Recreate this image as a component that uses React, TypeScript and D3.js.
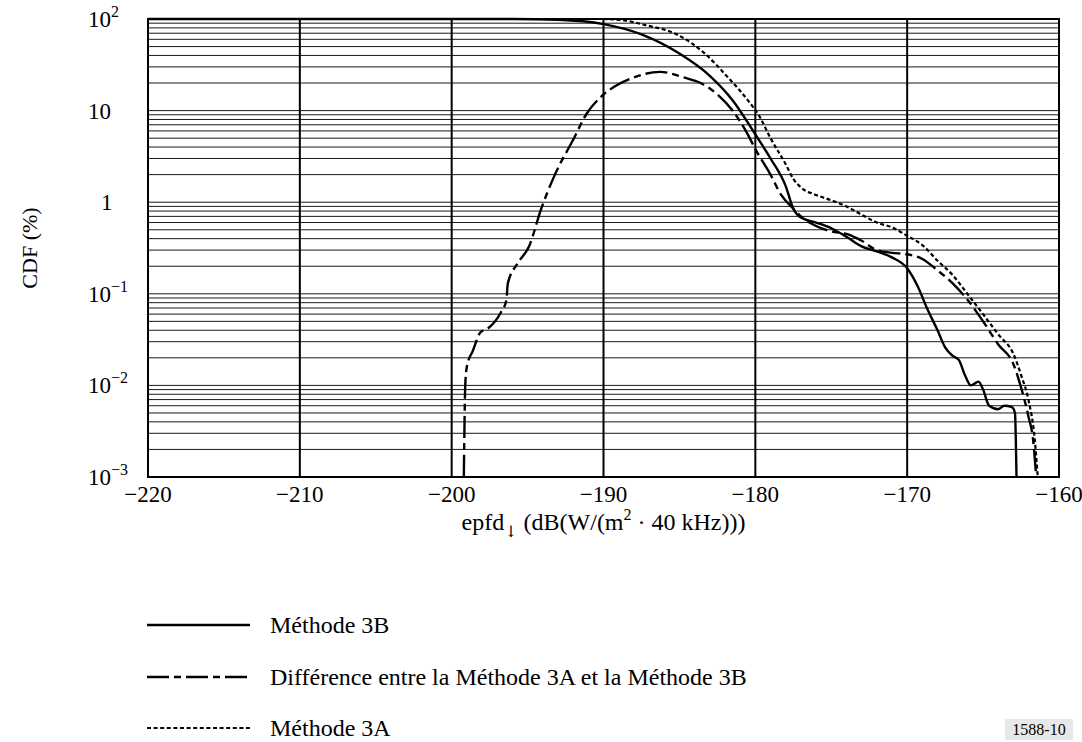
import { useEffect, useRef } from 'react';
import * as d3 from 'd3';

// x ticks (dB) and y decades (%)
const xTicks = [-220, -210, -200, -190, -180, -170, -160];
const yDecades = [100, 10, 1, 0.1, 0.01, 0.001];
const yLabelBase = ['10', '10', '1', '10', '10', '10'];
const yLabelSup = ['2', '', '', '\u22121', '\u22122', '\u22123'];

// Méthode 3B (solid)
const methode3B: [number, number][] = [
  [-220, 100], [-196, 100], [-193, 98], [-190, 88], [-187.5, 68], [-185, 42],
  [-183, 24], [-181.5, 13], [-180, 5.5], [-179, 3], [-178, 1.5], [-177.5, 0.85],
  [-177, 0.68], [-176, 0.6], [-175, 0.52], [-174, 0.42], [-173, 0.33], [-172, 0.29],
  [-171, 0.25], [-170, 0.19], [-169.3, 0.12], [-168.7, 0.07], [-168, 0.04],
  [-167.5, 0.026], [-167, 0.021], [-166.6, 0.019], [-166.2, 0.013], [-165.8, 0.01],
  [-165.3, 0.011], [-165, 0.009], [-164.6, 0.006], [-164, 0.0055], [-163.6, 0.006],
  [-163.1, 0.0058], [-162.9, 0.005], [-162.8, 0.001],
];

// Différence entre la Méthode 3A et la Méthode 3B (dash-dot)
const difference: [number, number][] = [
  [-199.2, 0.001], [-199.1, 0.0105], [-199.0, 0.016], [-198.6, 0.024], [-198.1, 0.038],
  [-197.6, 0.042], [-196.8, 0.061], [-196.4, 0.085], [-196.3, 0.13], [-195.7, 0.21],
  [-194.9, 0.33], [-194.1, 0.85], [-193.2, 2], [-192, 4.8], [-191.1, 9.3], [-190.2, 14],
  [-189.1, 19], [-188, 23], [-186.3, 26.5], [-184.7, 23], [-183.6, 20], [-182.5, 15],
  [-181.5, 10], [-180.5, 5.5], [-180, 3.8], [-179, 2], [-178.3, 1.2], [-177.5, 0.85],
  [-177, 0.7], [-176, 0.55], [-175, 0.48], [-174, 0.45], [-173, 0.38], [-172, 0.3],
  [-171, 0.28], [-170, 0.27], [-169, 0.24], [-168, 0.18], [-167, 0.13], [-166, 0.085],
  [-165, 0.05], [-164, 0.028], [-163, 0.017], [-162.5, 0.0095], [-162, 0.0045],
  [-161.7, 0.0025], [-161.5, 0.001],
];

// Méthode 3A (dotted)
const methode3A: [number, number][] = [
  [-220, 100], [-190, 100], [-188.5, 96], [-187.4, 87], [-185.1, 67], [-183.4, 43],
  [-181.8, 23], [-180.5, 13], [-179.7, 8.5], [-179, 5], [-178, 2.6], [-177.5, 1.8],
  [-177, 1.45], [-176, 1.2], [-175, 1.05], [-174, 0.9], [-173, 0.73], [-172, 0.6],
  [-171, 0.53], [-170, 0.43], [-169, 0.34], [-168, 0.23], [-167, 0.16], [-166, 0.098],
  [-165, 0.06], [-164, 0.036], [-163, 0.022], [-162.5, 0.013], [-162, 0.0068],
  [-161.6, 0.0026], [-161.4, 0.001],
];

const legendLabels = [
  'Méthode 3B',
  'Différence entre la Méthode 3A et la Méthode 3B',
  'Méthode 3A',
];

const App = () => {
  const ref = useRef<HTMLDivElement>(null);

  useEffect(() => {
    document.body.style.margin = '0';
    const width = 1082;
    const height = 742;
    const left = 148, right = 1059, top = 19, bottom = 477;
    const font = '"Liberation Serif", "Times New Roman", serif';

    const x = d3.scaleLinear().domain([-220, -160]).range([left, right]);
    const y = d3.scaleLog().domain([0.001, 100]).range([bottom, top]);

    d3.select(ref.current).select('svg').remove();

    const svg = d3.select(ref.current)
      .append('svg')
      .attr('width', width)
      .attr('height', height)
      .style('display', 'block')
      .style('background', '#fff')
      .style('font-family', font)
      .attr('fill', '#000');

    svg.append('defs').append('clipPath').attr('id', 'plot')
      .append('rect')
      .attr('x', left).attr('y', top - 2)
      .attr('width', right - left).attr('height', bottom - top + 2);

    // horizontal grid: 1..9 x each decade
    const minor: number[] = [];
    for (let n = -3; n <= 1; n++) {
      for (let k = 1; k <= 9; k++) {
        const v = k * Math.pow(10, n);
        if (v > 0.001 && v < 100) minor.push(v);
      }
    }
    svg.append('g').selectAll('line')
      .data(minor)
      .enter().append('line')
      .attr('x1', left).attr('x2', right)
      .attr('y1', d => y(d)).attr('y2', d => y(d))
      .attr('stroke', '#1a1a1a')
      .attr('stroke-width', 1);

    // vertical grid
    svg.append('g').selectAll('line')
      .data(xTicks.slice(1, -1))
      .enter().append('line')
      .attr('x1', d => x(d)).attr('x2', d => x(d))
      .attr('y1', top).attr('y2', bottom)
      .attr('stroke', '#000')
      .attr('stroke-width', 2);

    // frame
    svg.append('rect')
      .attr('x', left).attr('y', top)
      .attr('width', right - left).attr('height', bottom - top)
      .attr('fill', 'none')
      .attr('stroke', '#000')
      .attr('stroke-width', 2);

    // curves
    const line = d3.line<[number, number]>()
      .x(d => x(d[0]))
      .y(d => y(d[1]))
      .curve(d3.curveMonotoneX);

    const series = [
      { data: methode3B, dash: null, w: 2.4 },
      { data: difference, dash: '22 5 7 5', w: 2.4 },
      { data: methode3A, dash: '4 2.6', w: 2.2 },
    ];

    const curves = svg.append('g').attr('clip-path', 'url(#plot)');
    series.forEach(s => {
      curves.append('path')
        .datum(s.data)
        .attr('fill', 'none')
        .attr('stroke', '#000')
        .attr('stroke-width', s.w)
        .attr('stroke-dasharray', s.dash)
        .attr('d', line);
    });

    // x tick labels
    svg.append('g').selectAll('text')
      .data(xTicks)
      .enter().append('text')
      .attr('x', d => x(d))
      .attr('y', bottom + 25)
      .attr('text-anchor', 'middle')
      .style('font-size', '23px')
      .text(d => (d < 0 ? '\u2212' + Math.abs(d) : String(d)));

    // y tick labels
    const yl = svg.append('g').selectAll('text')
      .data(yDecades)
      .enter().append('text')
      .attr('x', (d, i) => (yLabelBase[i] === '1' ? 101 : 88))
      .attr('y', d => y(d) + 8)
      .style('font-size', '23px');
    yl.append('tspan').text((d, i) => yLabelBase[i]);
    yl.append('tspan')
      .attr('dy', -10)
      .style('font-size', '16px')
      .text((d, i) => yLabelSup[i]);

    // y axis title
    svg.append('text')
      .attr('transform', `translate(37, ${(top + bottom) / 2}) rotate(-90)`)
      .attr('text-anchor', 'middle')
      .style('font-size', '22px')
      .text('CDF (%)');

    // x axis title
    const xt = svg.append('text')
      .attr('x', (left + right) / 2)
      .attr('y', bottom + 53)
      .attr('text-anchor', 'middle')
      .style('font-size', '24px');
    xt.append('tspan').text('epfd');
    xt.append('tspan').attr('dy', 7).style('font-size', '16px')
      .style('font-family', '"DejaVu Serif", serif').attr('fill', '#000').text('\u2193');
    xt.append('tspan').attr('dy', -7).text(' (dB(W/(m');
    xt.append('tspan').attr('dy', -10).style('font-size', '16px').text('2');
    xt.append('tspan').attr('dy', 10).text(' \u00b7 40 kHz)))');

    // legend
    const legendY = [625, 677, 728];
    series.forEach((s, i) => {
      svg.append('line')
        .attr('x1', 147).attr('x2', 250)
        .attr('y1', legendY[i]).attr('y2', legendY[i])
        .attr('stroke', '#000')
        .attr('stroke-width', s.w)
        .attr('stroke-dasharray', s.dash);
      svg.append('text')
        .attr('x', 270)
        .attr('y', legendY[i] + 8)
        .style('font-size', '24px')
        .text(legendLabels[i]);
    });

    // figure id
    svg.append('rect')
      .attr('x', 1005).attr('y', 719)
      .attr('width', 68).attr('height', 21)
      .attr('fill', '#e8e8e8');
    svg.append('text')
      .attr('x', 1039).attr('y', 735)
      .attr('text-anchor', 'middle')
      .style('font-size', '16px')
      .text('1588-10');
  }, []);

  return <div ref={ref} />;
};

export default App;
